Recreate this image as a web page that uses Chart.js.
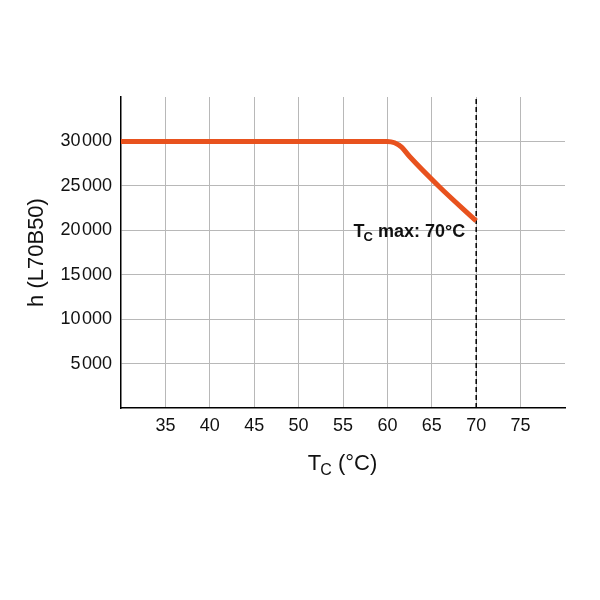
<!DOCTYPE html>
<html>
<head>
<meta charset="utf-8">
<script src="https://cdn.jsdelivr.net/npm/chart.js@4/dist/chart.umd.min.js"></script>
<style>
  html, body { margin: 0; padding: 0; background: #fff; }
  #wrap { width: 600px; height: 600px; }
</style>
</head>
<body>
<div id="wrap"><canvas id="lifeChart" width="600" height="600"></canvas></div>
<script>
// lifetime vs case temperature
var tempC = [30, 60, 60.8, 61.6, 62.5, 65.9, 70];
var hours = [30000, 30000, 29850, 29350, 28300, 24850, 21050];
var maxLineX = [70, 70];
var maxLineY = [0, 35000];
var xTicks = [35, 40, 45, 50, 55, 60, 65, 70, 75];
var yTicks = [5000, 10000, 15000, 20000, 25000, 30000];

var fontName = "'Liberation Sans', Arial, sans-serif";

function toPoints(xs, ys) {
    return xs.map(function (x, i) { return { x: x, y: ys[i] }; });
}

// draws a T with subscript C followed by the rest of the text
function drawSubText(ctx, x, y, size, weight, rest, align) {
    var big = weight + " " + size + "px " + fontName;
    var small = weight + " " + Math.round(size * 0.72) + "px " + fontName;
    ctx.font = big;
    var wT = ctx.measureText("T").width;
    var wR = ctx.measureText(rest).width;
    ctx.font = small;
    var wC = ctx.measureText("C").width;
    var total = wT + wC + wR;
    var start = align === "right" ? x - total : (align === "center" ? x - total / 2 : x);
    ctx.textAlign = "left";
    ctx.textBaseline = "alphabetic";
    ctx.font = big;
    ctx.fillText("T", start, y);
    ctx.font = small;
    ctx.fillText("C", start + wT - 1, y + size * 0.22);
    ctx.font = big;
    ctx.fillText(rest, start + wT + wC - 1, y);
}

var labelsPlugin = {
    id: "labels",
    afterDraw: function (chart) {
        var ctx = chart.ctx;
        var area = chart.chartArea;
        var sx = chart.scales.x, sy = chart.scales.y;
        ctx.save();
        ctx.fillStyle = "#111";
        // y title
        ctx.translate(37, (area.top + area.bottom) / 2);
        ctx.rotate(-Math.PI / 2);
        ctx.font = "22px " + fontName;
        ctx.textAlign = "center";
        ctx.textBaseline = "middle";
        ctx.fillText("h (L70B50)", 0, 0);
        ctx.setTransform(1, 0, 0, 1, 0, 0);
        // x title
        drawSubText(ctx, (area.left + area.right) / 2, 470, 22, "normal", " (°C)", "center");
        // annotation
        drawSubText(ctx, sx.getPixelForValue(70) - 10, sy.getPixelForValue(20000) + 7, 18, "bold", " max: 70°C", "right");
        ctx.restore();
    }
};

new Chart("lifeChart", {
    type: "line",
    data: {
        datasets: [
            {
                data: toPoints(tempC, hours),
                borderColor: "#E8521E",
                borderWidth: 5,
                cubicInterpolationMode: "monotone",
                pointRadius: 0,
                fill: false
            },
            {
                data: toPoints(maxLineX, maxLineY),
                borderColor: "#000",
                borderWidth: 1.5,
                borderDash: [5, 3],
                pointRadius: 0,
                fill: false
            }
        ]
    },
    options: {
        responsive: false,
        animation: false,
        events: [],
        layout: { padding: { left: 0, right: 35, top: 97, bottom: 0 } },
        plugins: {
            legend: { display: false },
            tooltip: { enabled: false }
        },
        scales: {
            x: {
                type: "linear",
                min: 30,
                max: 80,
                afterFit: function (s) { s.height = 192; },
                afterBuildTicks: function (s) {
                    s.ticks = [30].concat(xTicks, [80]).map(function (v) { return { value: v }; });
                },
                ticks: {
                    padding: 7,
                    color: "#111",
                    font: { family: fontName, size: 18 },
                    maxRotation: 0,
                    callback: function (v) { return xTicks.indexOf(v) >= 0 ? String(v) : ""; }
                },
                grid: {
                    drawTicks: false,
                    color: function (c) { return xTicks.indexOf(c.tick.value) >= 0 ? "#b8b8b8" : "rgba(0,0,0,0)"; },
                    lineWidth: 1
                },
                border: { color: "#000", width: 1.5 }
            },
            y: {
                min: 0,
                max: 35000,
                afterFit: function (s) { s.width = 121; },
                afterBuildTicks: function (s) {
                    s.ticks = [0].concat(yTicks, [35000]).map(function (v) { return { value: v }; });
                },
                ticks: {
                    padding: 9,
                    color: "#111",
                    font: { family: fontName, size: 18 },
                    callback: function (v) {
                        if (yTicks.indexOf(v) < 0) return "";
                        var s = String(v);
                        return s.slice(0, s.length - 3) + "\u200a" + s.slice(-3);
                    }
                },
                grid: {
                    drawTicks: false,
                    color: function (c) { return yTicks.indexOf(c.tick.value) >= 0 ? "#b8b8b8" : "rgba(0,0,0,0)"; },
                    lineWidth: 1
                },
                border: { color: "#000", width: 1.5 }
            }
        }
    },
    plugins: [labelsPlugin]
});
</script>
</body>
</html>
